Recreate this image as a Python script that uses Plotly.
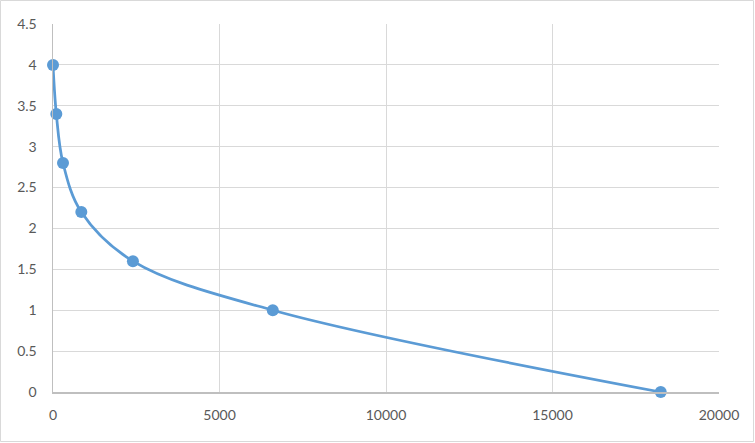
import plotly.graph_objects as go

concentration = [0, 100, 300, 850, 2400, 6600, 18250]
od_values = [4.0, 3.4, 2.8, 2.2, 1.6, 1.0, 0.0]

x_ticks = [0, 5000, 10000, 15000, 20000]
y_ticks = [0, 0.5, 1, 1.5, 2, 2.5, 3, 3.5, 4, 4.5]

W, H = 755, 443
ml, mr, mt, mb = 53, 36, 24, 51
pw, ph = W - ml - mr, H - mt - mb

fig = go.Figure()
fig.add_trace(go.Scatter(
    x=concentration, y=od_values,
    mode="lines+markers",
    line=dict(color="#5B9BD5", width=2.75, shape="spline", smoothing=1.0),
    marker=dict(color="#5B9BD5", size=12),
    showlegend=False,
    cliponaxis=False,
))

font = dict(family="Lato, Open Sans, Liberation Sans, sans-serif", size=14, color="#595959")

fig.update_layout(
    width=W, height=H,
    margin=dict(l=ml, r=mr, t=mt, b=mb, autoexpand=False),
    paper_bgcolor="white", plot_bgcolor="white",
    font=font,
    xaxis=dict(
        range=[0, 20000], tickvals=x_ticks, ticktext=[str(v) for v in x_ticks],
        showgrid=True, gridcolor="#d9d9d9", gridwidth=1,
        showline=True, linecolor="#bfbfbf", linewidth=1.5,
        zeroline=False, ticks="", tickfont=font, ticklabelstandoff=10,
        automargin=False,
    ),
    yaxis=dict(
        range=[0, 4.5], tickvals=y_ticks, ticktext=[f"{v:g}" for v in y_ticks],
        showgrid=True, gridcolor="#d9d9d9", gridwidth=1,
        showline=True, linecolor="#bfbfbf", linewidth=1.5,
        zeroline=False, ticks="", tickfont=font, ticklabelstandoff=12,
        automargin=False,
    ),
    shapes=[dict(
        type="rect", xref="paper", yref="paper",
        x0=-(ml - 0.5) / pw, x1=1 + (mr - 1.5) / pw,
        y0=-(mb - 1.5) / ph, y1=1 + (mt - 0.5) / ph,
        line=dict(color="#d9d9d9", width=1), fillcolor="rgba(0,0,0,0)",
        layer="below",
    )],
)

fig.write_html(
    "out.html",
    config={"displayModeBar": False, "staticPlot": True},
    post_script="document.body.style.margin='0';document.body.style.padding='0';",
)
